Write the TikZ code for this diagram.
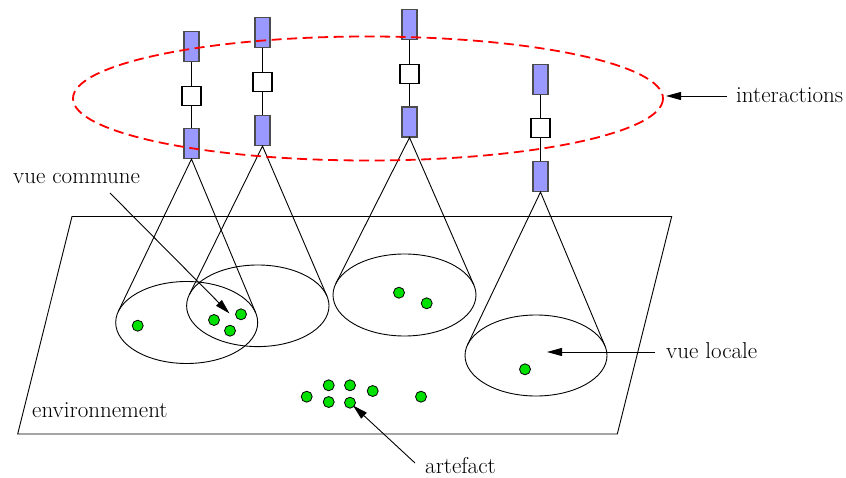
\documentclass[tikz,border=0pt]{standalone}
\usetikzlibrary{arrows.meta}
\definecolor{agentblue}{RGB}{153,153,255}
\definecolor{dotgreen}{RGB}{0,225,0}
\tikzset{
  agentrect/.style={draw=black!70, line width=1.1pt, fill=agentblue, minimum width=15pt, minimum height=30pt, inner sep=0pt},
  agentsq/.style={draw=black, line width=1.5pt, fill=white, minimum size=19pt, inner sep=0pt},
  link/.style={line width=0.9pt},
  cone/.style={line width=0.9pt},
  view/.style={line width=0.9pt},
  artefactdot/.style={circle, draw=black, line width=0.8pt, fill=dotgreen, minimum size=11pt, inner sep=0pt},
  arr/.style={line width=0.9pt, -{Triangle[length=15pt,width=8pt]}},
  lbl/.style={font=\rmfamily\fontsize{23}{27}\selectfont, inner sep=0pt, anchor=base west},
}
\begin{document}
\begin{tikzpicture}[x=1pt,y=-1pt]
\useasboundingbox (0,0) rectangle (846,478);
% environment
\draw[line width=0.9pt] (72,216.5) coordinate (envA) -- (671.7,216.5) coordinate (envB)
   -- (617.3,434) coordinate (envC) -- (17.7,434) coordinate (envD) -- cycle;
% views (ellipses)
\coordinate (e1) at (186.7,322.5);
\coordinate (e2) at (257.8,305.8);
\coordinate (e3) at (404.5,295);
\coordinate (e4) at (536,355.5);
\draw[view] (e1) ellipse [x radius=71, y radius=41];
\draw[view] (e2) ellipse [x radius=71.2, y radius=40.8];
\draw[view] (e3) ellipse [x radius=71.5, y radius=41];
\draw[view] (e4) ellipse [x radius=71, y radius=40.5];
% agents
\node[agentrect] (a1t) at (191.5,46.5) {};
\node[agentsq]   (a1s) at (191.5,96) {};
\node[agentrect] (a1b) at (191.5,143.5) {};
\node[agentrect] (a2t) at (262.5,32.5) {};
\node[agentsq]   (a2s) at (262.5,82) {};
\node[agentrect] (a2b) at (262.5,130.5) {};
\node[agentrect] (a3t) at (409.5,24.5) {};
\node[agentsq]   (a3s) at (409.5,74) {};
\node[agentrect] (a3b) at (409.5,122) {};
\node[agentrect] (a4t) at (540.5,79.5) {};
\node[agentsq]   (a4s) at (540.5,128) {};
\node[agentrect] (a4b) at (540.5,176.5) {};
\foreach \i in {1,2,3,4}{
  \draw[link] (a\i t.south) -- (a\i s.north);
  \draw[link] (a\i s.south) -- (a\i b.north);
}
% cone tangent points
\coordinate (t1r) at (255.7,312.8); \coordinate (t1l) at (118.2,311.6);
\coordinate (t2r) at (326.9,296.0); \coordinate (t2l) at (189.3,294.7);
\coordinate (t3r) at (473.9,285.1); \coordinate (t3l) at (335.8,283.6);
\coordinate (t4r) at (605.0,346.0); \coordinate (t4l) at (467.5,344.9);
\foreach \i in {1,2,3,4}{
  \draw[cone] (t\i l) -- (a\i b.south) -- (t\i r);
}
% interactions ellipse
\draw[red, line width=1.8pt, dash pattern=on 10pt off 5.5pt] (368,98.5) ellipse [x radius=295, y radius=62];
% artefacts
\node[artefactdot] (d1) at (137.7,325.7) {};
\node[artefactdot] (d2) at (214,320) {};
\node[artefactdot] (d3) at (241,314.3) {};
\node[artefactdot] (d4) at (230,330.7) {};
\node[artefactdot] (d5) at (399,292.7) {};
\node[artefactdot] (d6) at (426.7,303.3) {};
\node[artefactdot] (d7) at (525,369.3) {};
\node[artefactdot] (d8) at (306.7,396.7) {};
\node[artefactdot] (d9) at (328.7,385.3) {};
\node[artefactdot] (d10) at (350,385.3) {};
\node[artefactdot] (d11) at (372.7,391) {};
\node[artefactdot] (d12) at (421,396.7) {};
\node[artefactdot] (d13) at (328.7,402) {};
\node[artefactdot] (d14) at (350,402.7) {};
% labels
\node[lbl] (lvc) at (13,184) {vue commune};
\node[lbl] (lint) at (736,102.3) {interactions};
\node[lbl] (lenv) at (32,417.7) {environnement};
\node[lbl] (lart) at (425,473.3) {artefact};
\node[lbl] (lvl) at (666,358.3) {vue locale};
% arrows
\coordinate (svc) at (110,193);  \coordinate (tvc) at (229.5,313.5);
\coordinate (sint) at (727,96);  \coordinate (tint) at (666,96);
\coordinate (svl) at (655,352);  \coordinate (tvl) at (547,352);
\coordinate (sart) at (415,463); \coordinate (tart) at (353,405.5);
\draw[arr] (svc) -- (tvc);
\draw[arr] (sint) -- (tint);
\draw[arr] (svl) -- (tvl);
\draw[arr] (sart) -- (tart);
\end{tikzpicture}
\end{document}
